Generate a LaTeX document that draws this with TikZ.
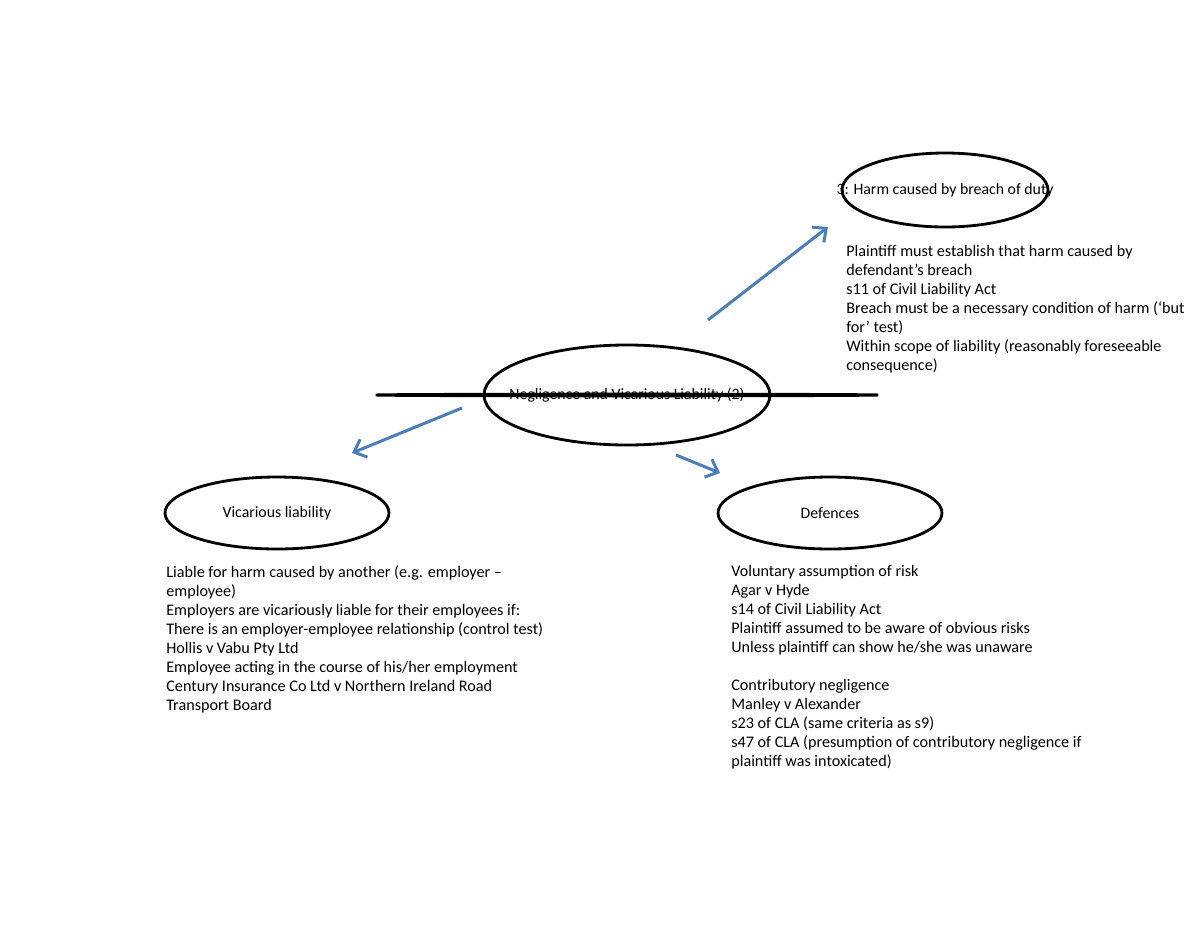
\documentclass[tikz,border=0pt]{standalone}
\usepackage{fontspec}
\setmainfont{Carlito}
\usetikzlibrary{shapes.geometric,arrows.meta}
\begin{document}
\begin{tikzpicture}[x=0.02cm,y=-0.02cm,
  oval/.style={draw,line width=1.6pt,ellipse,inner sep=0pt,font=\fontsize{9}{11}\selectfont},
  txt/.style={anchor=north west,align=left,inner sep=0pt,font=\fontsize{9.2}{10.8}\selectfont},
  arr/.style={draw=arrowblue,line width=1.7pt,-{Straight Barb[length=6pt,width=11pt]}}]
\definecolor{arrowblue}{HTML}{4A7EBB}
\useasboundingbox (0,0) rectangle (1200,927);
\node[oval,minimum width=286\pgflinewidth/1.6*0.02cm/0.02cm] (c) at (627,395) {};
\draw[line width=1.6pt] (627,395) ellipse [x radius=143, y radius=50];
\node[font=\fontsize{9}{11}\selectfont] (cl) at (627,395) {Negligence and Vicarious Liability (2)};
\draw[line width=1.6pt] (945,190) ellipse [x radius=103, y radius=37];
\node[font=\fontsize{9}{11}\selectfont] (hl) at (945,190) {3: Harm caused by breach of duty};
\draw[line width=1.6pt] (277,513) ellipse [x radius=112, y radius=36];
\node[font=\fontsize{9}{11}\selectfont] (vl) at (277,513) {Vicarious liability};
\draw[line width=1.6pt] (830,513) ellipse [x radius=112, y radius=36];
\node[font=\fontsize{9}{11}\selectfont] (dl) at (830,513) {Defences};
\coordinate (a1) at (708,320); \coordinate (b1) at (828,227);
\coordinate (a2) at (462,408); \coordinate (b2) at (352,453);
\coordinate (a3) at (676,455); \coordinate (b3) at (720,473);
\draw[arr] (a1) -- (b1);
\draw[arr] (a2) -- (b2);
\draw[arr] (a3) -- (b3);
\node[txt] (ht) at (846,245) {Plaintiff must establish that harm caused by\\defendant’s breach\\s11 of Civil Liability Act\\Breach must be a necessary condition of harm (‘but\\for’ test)\\Within scope of liability (reasonably foreseeable\\consequence)};
\node[txt] (vt) at (166,565) {Liable for harm caused by another (e.g. employer –\\employee)\\Employers are vicariously liable for their employees if:\\There is an employer-employee relationship (control test)\\Hollis v Vabu Pty Ltd\\Employee acting in the course of his/her employment\\Century Insurance Co Ltd v Northern Ireland Road\\Transport Board};
\node[txt] (dt) at (731,565) {Voluntary assumption of risk\\Agar v Hyde\\s14 of Civil Liability Act\\Plaintiff assumed to be aware of obvious risks\\Unless plaintiff can show he/she was unaware\\[10.8pt]Contributory negligence\\Manley v Alexander\\s23 of CLA (same criteria as s9)\\s47 of CLA (presumption of contributory negligence if\\plaintiff was intoxicated)};
\end{tikzpicture}
\end{document}
